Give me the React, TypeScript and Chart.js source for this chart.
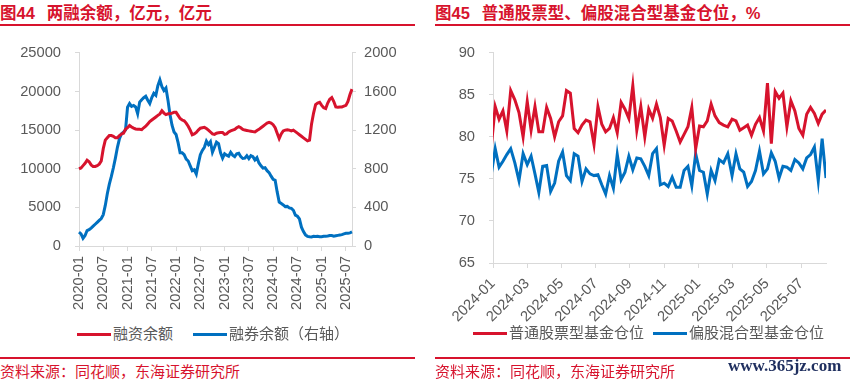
import React, { useEffect, useRef } from 'react';
import { Chart, registerables } from 'chart.js';

Chart.register(...registerables);

// ---------- Left chart: 两融余额 (semi-monthly, 2020-01 .. 2025-08) ----------
const marginDates: string[] = [];
for (let y = 2020; y <= 2025; y++) {
  for (let m = 1; m <= 12; m++) {
    if (y === 2025 && m > 8) break;
    const mm = String(m).padStart(2, '0');
    marginDates.push(`${y}-${mm}-01`, `${y}-${mm}-16`);
  }
}

// 融资余额, 亿元 (left axis)
const financingBalance: number[] = [
  10000, 10100, 10400, 10700, 11100, 10900, 10500, 10300, 10300, 10400, 10600, 11000,
  12600, 13700, 14000, 14300, 14300, 14200, 14000, 14000, 14300, 14500, 14600, 15100,
  15300, 15600, 15400, 15250, 15150, 15100, 15100, 15050, 15300, 15500, 15800, 16100,
  16300, 16500, 16700, 16900, 17100, 17500, 17200, 17000, 17100, 17100, 17200, 17300,
  17300, 16900, 16500, 16300, 16200, 15900, 15500, 15000, 14400, 14500, 14700, 15000,
  15250, 15300, 15350, 15200, 15000, 14750, 14500, 14450, 14600, 14650, 14700, 14700,
  14450, 14500, 14750, 14900, 15000, 15100, 15300, 15450, 15300, 15100, 15000, 14950,
  14900, 14850, 14800, 14750, 14950, 15100, 15300, 15500, 15700, 15900, 16000, 15900,
  15700, 15300, 14600, 13900, 14500, 14900, 15000, 15050, 15000, 14900, 15000, 14800,
  14600, 14400, 14200, 14000, 13800, 13600, 13700, 15800, 17200, 18300, 18500, 18600,
  18200, 17900, 17800, 18500, 19000, 19200, 18700, 18000, 17950, 18000, 18000, 18100,
  18200, 18700, 19600, 20300,
];

// 融券余额, 亿元 (right axis)
const lendingBalance: number[] = [
  143, 126, 80, 109, 160, 170, 185, 205, 225, 245, 265, 285,
  325, 420, 541, 640, 720, 810, 910, 1022, 1110, 1160, 1180, 1200,
  1436, 1475, 1445, 1455, 1440, 1370, 1490, 1515, 1536, 1550, 1510, 1475,
  1536, 1580, 1560, 1660, 1720, 1650, 1610, 1635, 1510, 1360, 1250, 1180,
  1154, 1070, 965, 965, 945, 900, 880, 830, 780, 789, 745, 850,
  945, 990, 1022, 1085, 1050, 1080, 970, 1022, 1075, 1060, 965, 910,
  955, 940, 930, 970, 940, 925, 955, 960, 925, 906, 910, 935,
  905, 935, 925, 890, 915, 860, 830, 806, 810, 780, 760, 723,
  690, 680, 560, 455, 441, 425, 408, 410, 395, 390, 370, 320,
  308, 280, 195, 150, 115, 100, 95, 93, 100, 98, 100, 95,
  95, 100, 102, 103, 108, 108, 102, 106, 110, 114, 118, 126,
  131, 133, 136, 145,
];

// ---------- Right chart: 基金仓位 (weekly) ----------
const fundDates: string[] = Array.from({ length: 86 }, (_, i) =>
  new Date(Date.UTC(2023, 11, 29 + 7 * i)).toISOString().slice(0, 10)
);

// 普通股票型基金仓位, %
const stockFund: number[] = [
  78.9, 83.6, 82.1, 83.1, 80.7, 85.5, 84.4, 82.9, 80.0, 84.2,
  80.8, 83.6, 80.6, 80.6, 83.5, 82.2, 80.0, 81.8, 82.5, 85.5,
  85.2, 81.0, 80.5, 81.4, 82.0, 81.8, 79.1, 83.6, 81.5, 80.6,
  81.0, 82.3, 80.5, 84.1, 83.3, 82.2, 86.1, 80.8, 83.6, 80.0,
  83.3, 82.2, 83.9, 82.3, 79.0, 82.2, 81.9, 80.7, 79.4, 80.3,
  81.2, 83.5, 78.6, 81.3, 81.2, 81.9, 83.9, 82.5, 81.7, 81.4,
  81.2, 82.1, 81.9, 80.8, 81.1, 81.4, 80.2, 81.5, 82.3, 80.7,
  86.4, 79.2, 85.4, 84.6, 85.2, 81.2, 84.3, 83.1, 81.0, 80.2,
  82.7, 83.5, 82.8, 81.6, 82.7, 83.2,
];

// 偏股混合型基金仓位, %
const mixedFund: number[] = [
  75.6, 78.6, 76.4, 77.1, 77.9, 78.6, 76.9, 74.8, 78.0, 76.7,
  77.7, 75.6, 73.4, 76.5, 76.6, 73.5, 74.5, 77.1, 78.2, 75.4,
  74.8, 78.0, 77.7, 74.7, 76.2, 75.6, 75.4, 75.5, 74.3, 73.2,
  75.4, 73.9, 77.9, 74.9, 75.8, 77.7, 76.1, 77.5, 77.4, 76.5,
  75.4, 78.0, 78.6, 74.3, 74.5, 74.1, 75.2, 74.0, 74.0, 76.0,
  76.5, 74.2, 78.0, 76.0, 75.8, 73.2, 76.0, 74.8, 77.3, 76.9,
  78.0, 75.4, 78.0, 76.2, 75.8, 74.1, 74.7, 76.0, 78.3, 75.6,
  76.2, 78.1, 77.1, 75.1, 76.5, 76.4, 76.0, 77.3, 76.9, 76.2,
  77.5, 77.9, 78.8, 74.8, 79.8, 75.1,
];

const RED = '#d7132d';
const BLUE = '#0070c0';
const AXIS = '#d9d9d9';
const TEXT = '#595959';
const NUM_FONT = '"Liberation Sans", Arial, sans-serif';
const CJK_FONT = '"Liberation Sans", "Noto Sans CJK SC", sans-serif';
const TICK_FONT = { family: NUM_FONT, size: 14.7 };
const plain = (v: any) => String(v);

// month index from 2024-01 (fractional)
const toMonthIndex = (s: string) => {
  const [y, m, d] = s.split('-').map(Number);
  const dim = new Date(y, m, 0).getDate();
  return (y - 2024) * 12 + (m - 1) + (d - 1) / dim;
};

function MarginChart() {
  const ref = useRef<HTMLCanvasElement>(null);
  useEffect(() => {
    const chart = new Chart(ref.current!, {
      type: 'line',
      data: {
        labels: marginDates,
        datasets: [
          { label: '融资余额', data: financingBalance, borderColor: RED, backgroundColor: RED, borderWidth: 3, pointRadius: 0, yAxisID: 'y' },
          { label: '融券余额（右轴）', data: lendingBalance, borderColor: BLUE, backgroundColor: BLUE, borderWidth: 3, pointRadius: 0, yAxisID: 'y1' },
        ],
      },
      options: {
        responsive: false,
        animation: false,
        layout: { padding: { top: 15, right: 0, bottom: 0, left: 0 } },
        plugins: { legend: { display: false }, tooltip: { enabled: false } },
        scales: {
          x: {
            type: 'category',
            offset: false,
            grid: {
              drawOnChartArea: false,
              tickLength: 5,
              color: AXIS,
              tickColor: (ctx: any) => (ctx.index % 12 === 0 ? AXIS : 'rgba(0,0,0,0)'),
            },
            border: { color: AXIS },
            ticks: {
              autoSkip: false,
              maxRotation: 90,
              minRotation: 90,
              padding: 5,
              color: TEXT,
              font: TICK_FONT,
              callback: (_v: any, i: number) => (i % 12 === 0 ? marginDates[i].slice(0, 7) : ''),
            },
            afterFit: (s: any) => { s.height = 74; },
          },
          y: {
            position: 'left',
            min: 0,
            max: 25000,
            ticks: { stepSize: 5000, padding: 14, color: TEXT, font: TICK_FONT, callback: plain },
            grid: { drawOnChartArea: false, tickLength: 4, color: AXIS },
            border: { color: AXIS },
            afterFit: (s: any) => { s.width = 79; },
          },
          y1: {
            position: 'right',
            min: 0,
            max: 2000,
            ticks: { stepSize: 200, padding: 8, color: TEXT, font: TICK_FONT, callback: plain },
            grid: { drawOnChartArea: false, tickLength: 4, color: AXIS },
            border: { color: AXIS },
            afterFit: (s: any) => { s.width = 73; },
          },
        },
      } as any,
    });
    return () => chart.destroy();
  }, []);
  return <canvas ref={ref} width={425} height={290} style={{ position: 'absolute', left: 0, top: 30 }} />;
}

function FundChart() {
  const ref = useRef<HTMLCanvasElement>(null);
  useEffect(() => {
    const xs = fundDates.map(toMonthIndex);
    const chart = new Chart(ref.current!, {
      type: 'line',
      data: {
        datasets: [
          { label: '普通股票型基金仓位', data: xs.map((x, i) => ({ x, y: stockFund[i] })), borderColor: RED, backgroundColor: RED, borderWidth: 3, pointRadius: 0 },
          { label: '偏股混合型基金仓位', data: xs.map((x, i) => ({ x, y: mixedFund[i] })), borderColor: BLUE, backgroundColor: BLUE, borderWidth: 3, pointRadius: 0 },
        ],
      },
      options: {
        responsive: false,
        animation: false,
        layout: { padding: { top: 10, right: 24, bottom: 0, left: 0 } },
        plugins: { legend: { display: false }, tooltip: { enabled: false } },
        scales: {
          x: {
            type: 'linear',
            min: 0,
            max: xs[xs.length - 1],
            grid: { drawOnChartArea: false, tickLength: 5, color: AXIS },
            border: { color: AXIS },
            ticks: {
              stepSize: 2,
              includeBounds: false,
              autoSkip: false,
              maxRotation: 45,
              minRotation: 45,
              padding: 7,
              color: TEXT,
              font: TICK_FONT,
              callback: (v: any) => {
                const n = Math.round(Number(v));
                return `${2024 + Math.floor(n / 12)}-${String((n % 12) + 1).padStart(2, '0')}`;
              },
            },
            afterFit: (s: any) => { s.height = 67; },
          },
          y: {
            min: 65,
            max: 90,
            ticks: { stepSize: 5, padding: 14, color: TEXT, font: TICK_FONT, callback: plain },
            grid: { drawOnChartArea: false, tickLength: 4, color: AXIS },
            border: { color: AXIS },
            afterFit: (s: any) => { s.width = 68; },
          },
        },
      } as any,
    });
    return () => chart.destroy();
  }, []);
  return <canvas ref={ref} width={425} height={300} style={{ position: 'absolute', left: 425, top: 30 }} />;
}

function LegendItem({ x, y, color, text }: { x: number; y: number; color: string; text: string }) {
  return (
    <div style={{ position: 'absolute', left: x, top: y - 10, height: 20, display: 'flex', alignItems: 'center', whiteSpace: 'nowrap' }}>
      <span style={{ display: 'inline-block', width: 34, height: 3, background: color }} />
      <span style={{ marginLeft: 2, font: `15px ${CJK_FONT}`, color: TEXT, lineHeight: '20px' }}>{text}</span>
    </div>
  );
}

function Title({ x, num, text }: { x: number; num: string; text: string }) {
  return (
    <div style={{ position: 'absolute', left: x, top: 0, height: 25, lineHeight: '25px', font: `bold 16.5px ${CJK_FONT}`, color: RED, whiteSpace: 'nowrap' }}>
      <span style={{ marginRight: 12 }}>{num}</span>
      <span>{text}</span>
    </div>
  );
}

function Footer({ x }: { x: number }) {
  return (
    <div style={{ position: 'absolute', left: x, top: 360, height: 20, lineHeight: '20px', font: `15px ${CJK_FONT}`, color: RED, whiteSpace: 'nowrap' }}>
      资料来源：同花顺，东海证券研究所
    </div>
  );
}

export default function App() {
  return (
    <div style={{ position: 'absolute', left: 0, top: 0, width: 850, height: 380, background: '#fff', overflow: 'hidden' }}>
      <Title x={0} num="图44" text="两融余额，亿元，亿元" />
      <div style={{ position: 'absolute', left: 0, top: 24, width: 415, height: 2, background: RED }} />
      <Title x={435} num="图45" text="普通股票型、偏股混合型基金仓位，%" />
      <div style={{ position: 'absolute', left: 435, top: 24, width: 415, height: 2, background: RED }} />

      <MarginChart />
      <FundChart />

      <LegendItem x={77} y={334} color={RED} text="融资余额" />
      <LegendItem x={193} y={334} color={BLUE} text="融券余额（右轴）" />
      <LegendItem x={473} y={333} color={RED} text="普通股票型基金仓位" />
      <LegendItem x={653} y={333} color={BLUE} text="偏股混合型基金仓位" />

      <div style={{ position: 'absolute', left: 0, top: 357, width: 415, height: 2, background: RED }} />
      <div style={{ position: 'absolute', left: 435, top: 357, width: 415, height: 2, background: RED }} />
      <Footer x={0} />
      <Footer x={435} />
      <div style={{ position: 'absolute', left: 728, top: 356, lineHeight: '20px', font: 'bold 17px "Liberation Serif", "DejaVu Serif", serif', color: '#1f2f5f', whiteSpace: 'nowrap' }}>
        www.365jz.com
      </div>
    </div>
  );
}
